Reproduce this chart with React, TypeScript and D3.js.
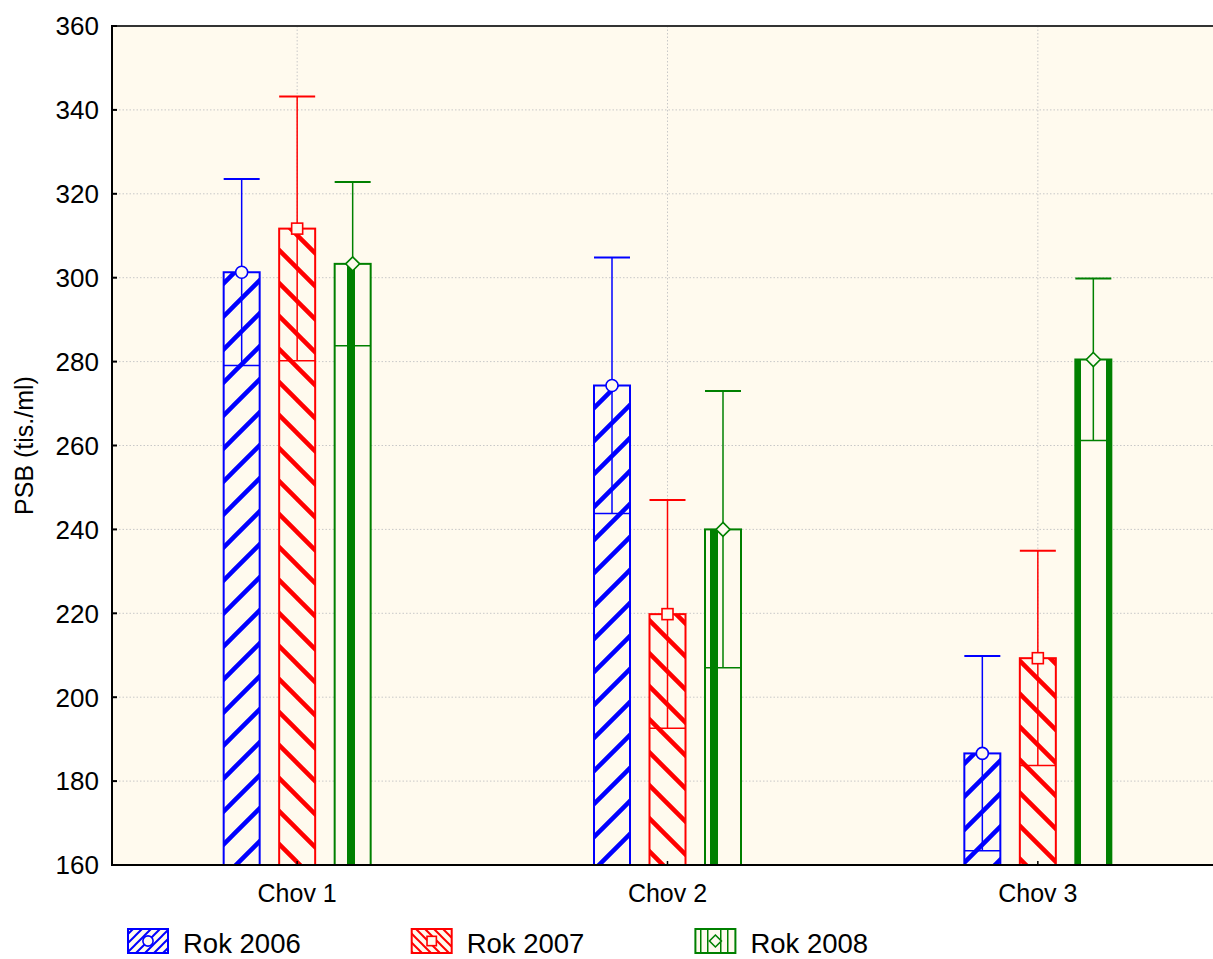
import React from "react";
import * as d3 from "d3";

// Group labels, series names and per-group values (mean ± error)
const categories = ["Chov 1", "Chov 2", "Chov 3"];
const seriesNames = ["Rok 2006", "Rok 2007", "Rok 2008"];
const means2006 = [301.3, 274.3, 186.6];
const errors2006 = [22.2, 30.5, 23.2];
const means2007 = [311.7, 219.8, 209.3];
const errors2007 = [31.5, 27.2, 25.6];
const means2008 = [303.3, 240.0, 280.5];
const errors2008 = [19.5, 33.0, 19.3];
const yTicks = [160, 180, 200, 220, 240, 260, 280, 300, 320, 340, 360];
const yLabel = "PSB (tis./ml)";

const W = 1213;
const H = 959;
const left = 112;
const right = 1223;
const top = 26;
const bottom = 865;

const colors = ["#0000ff", "#ff0000", "#008000"];
const bg = "#fffaee";
const FONT = "'Liberation Sans', Arial, sans-serif";

const seriesData = [
  { name: seriesNames[0], means: means2006, errors: errors2006 },
  { name: seriesNames[1], means: means2007, errors: errors2007 },
  { name: seriesNames[2], means: means2008, errors: errors2008 },
];

const x = d3.scaleBand<string>().domain(categories).range([left, right]).padding(0);
const xInner = d3.scalePoint<string>().domain(seriesNames).range([-55.5, 55.5]);
const y = d3.scaleLinear().domain([160, 360]).range([bottom, top]);
const barW = 36;

function Marker({ kind, cx, cy, color, s = 1 }: { kind: number; cx: number; cy: number; color: string; s?: number }) {
  if (kind === 0) return <circle cx={cx} cy={cy} r={6 * s} fill={bg} stroke={color} strokeWidth={1.6} />;
  if (kind === 1)
    return <rect x={cx - 5.5 * s} y={cy - 5.5 * s} width={11 * s} height={11 * s} fill={bg} stroke={color} strokeWidth={1.6} />;
  const r = 7 * s;
  return (
    <path
      d={`M${cx},${cy - r}L${cx + r},${cy}L${cx},${cy + r}L${cx - r},${cy}Z`}
      fill={bg}
      stroke={color}
      strokeWidth={1.6}
    />
  );
}

export default function App() {
  const pw = 33;
  const ph = 33;
  return (
    <svg width={W} height={H} style={{ position: "absolute", left: 0, top: 0 }} fontFamily={FONT}>
      <defs>
        <pattern id="hatchBlue" patternUnits="userSpaceOnUse" x={0} y={12} width={pw} height={ph}>
          <rect width={pw} height={ph} fill={bg} />
          <path
            d={`M0,${ph}L${pw},0M${-pw / 2},${ph / 2}L${pw / 2},${-ph / 2}M${pw / 2},${(3 * ph) / 2}L${(3 * pw) / 2},${ph / 2}`}
            stroke={colors[0]}
            strokeWidth={4.5}
          />
        </pattern>
        <pattern id="hatchRed" patternUnits="userSpaceOnUse" x={0} y={4} width={pw} height={ph}>
          <rect width={pw} height={ph} fill={bg} />
          <path
            d={`M0,0L${pw},${ph}M${pw / 2},${-ph / 2}L${(3 * pw) / 2},${ph / 2}M${-pw / 2},${ph / 2}L${pw / 2},${(3 * ph) / 2}`}
            stroke={colors[1]}
            strokeWidth={4.5}
          />
        </pattern>
        <pattern id="stripeGreen" patternUnits="userSpaceOnUse" x={0} y={0} width={33} height={10}>
          <rect width={33} height={10} fill={bg} />
          <rect x={17} width={8} height={10} fill={colors[2]} />
        </pattern>
        <pattern id="legBlue" patternUnits="userSpaceOnUse" x={0} y={0} width={9} height={9}>
          <rect width={9} height={9} fill={bg} />
          <path d="M0,9L9,0M-4.5,4.5L4.5,-4.5M4.5,13.5L13.5,4.5" stroke={colors[0]} strokeWidth={2} />
        </pattern>
        <pattern id="legRed" patternUnits="userSpaceOnUse" x={0} y={0} width={9} height={9}>
          <rect width={9} height={9} fill={bg} />
          <path d="M0,0L9,9M4.5,-4.5L13.5,4.5M-4.5,4.5L4.5,13.5" stroke={colors[1]} strokeWidth={2} />
        </pattern>
        <pattern id="legGreen" patternUnits="userSpaceOnUse" x={695} y={0} width={20} height={10}>
          <rect width={20} height={10} fill={bg} />
          <rect x={5} width={1.5} height={10} fill={colors[2]} />
          <rect x={12} width={1.5} height={10} fill={colors[2]} />
        </pattern>
      </defs>

      {/* plot background */}
      <rect x={left} y={top} width={W - left} height={bottom - top} fill={bg} />

      {/* grid */}
      {yTicks.slice(1, -1).map((t) => (
        <line key={`gy${t}`} x1={left} x2={W} y1={y(t)} y2={y(t)} stroke="#c8c8c8" strokeWidth={1} strokeDasharray="1.5,2" />
      ))}
      {categories.map((c) => {
        const cx = (x(c) as number) + x.bandwidth() / 2;
        return <line key={`gx${c}`} x1={cx} x2={cx} y1={top} y2={bottom} stroke="#c8c8c8" strokeWidth={1} strokeDasharray="1.5,2" />;
      })}

      {/* bars */}
      {seriesData.map((s, si) =>
        categories.map((c, ci) => {
          const cx = (x(c) as number) + x.bandwidth() / 2 + (xInner(s.name) as number);
          const m = s.means[ci];
          const e = s.errors[ci];
          const fillId = si === 0 ? "hatchBlue" : si === 1 ? "hatchRed" : "stripeGreen";
          return (
            <g key={`b${si}${ci}`}>
              <rect
                x={cx - barW / 2}
                y={y(m)}
                width={barW}
                height={bottom - y(m)}
                fill={`url(#${fillId})`}
                stroke={colors[si]}
                strokeWidth={2}
              />
              <line x1={cx} x2={cx} y1={y(m + e)} y2={y(m - e)} stroke={colors[si]} strokeWidth={1.5} />
              <line x1={cx - barW / 2} x2={cx + barW / 2} y1={y(m + e)} y2={y(m + e)} stroke={colors[si]} strokeWidth={2} />
              <line x1={cx - barW / 2} x2={cx + barW / 2} y1={y(m - e)} y2={y(m - e)} stroke={colors[si]} strokeWidth={1.5} />
              <Marker kind={si} cx={cx} cy={y(m)} color={colors[si]} />
            </g>
          );
        })
      )}

      {/* axes */}
      <line x1={left} x2={W} y1={top} y2={top} stroke="#333" strokeWidth={2} />
      <line x1={left} x2={left} y1={top - 1} y2={bottom + 1} stroke="#000" strokeWidth={2} />
      <line x1={left - 1} x2={W} y1={bottom} y2={bottom} stroke="#000" strokeWidth={2} />
      {yTicks.map((t) => (
        <g key={`yt${t}`}>
          <line x1={left} x2={left + 5} y1={y(t)} y2={y(t)} stroke="#000" strokeWidth={2} />
          <text x={left - 13} y={y(t)} dy="0.36em" textAnchor="end" fontSize={26} fill="#000">
            {t}
          </text>
        </g>
      ))}
      {categories.map((c) => {
        const cx = (x(c) as number) + x.bandwidth() / 2;
        return (
          <g key={`xt${c}`}>
            <line x1={cx} x2={cx} y1={bottom} y2={bottom - 4} stroke="#000" strokeWidth={1.5} />
            <text x={cx} y={902} textAnchor="middle" fontSize={25} fill="#000">
              {c}
            </text>
          </g>
        );
      })}
      <text transform={`translate(33,${(top + bottom) / 2}) rotate(-90)`} textAnchor="middle" fontSize={25} fill="#000">
        {yLabel}
      </text>

      {/* legend */}
      {seriesNames.map((n, i) => {
        const lx = 128 + i * 283.7;
        const fillId = i === 0 ? "legBlue" : i === 1 ? "legRed" : "legGreen";
        return (
          <g key={`lg${n}`}>
            <rect x={lx} y={929} width={40} height={24} fill={`url(#${fillId})`} stroke={colors[i]} strokeWidth={2} />
            <Marker kind={i} cx={lx + 20} cy={941} color={colors[i]} s={0.85} />
            <text x={lx + 55} y={953} fontSize={27.5} fill="#000">
              {n}
            </text>
          </g>
        );
      })}
    </svg>
  );
}
